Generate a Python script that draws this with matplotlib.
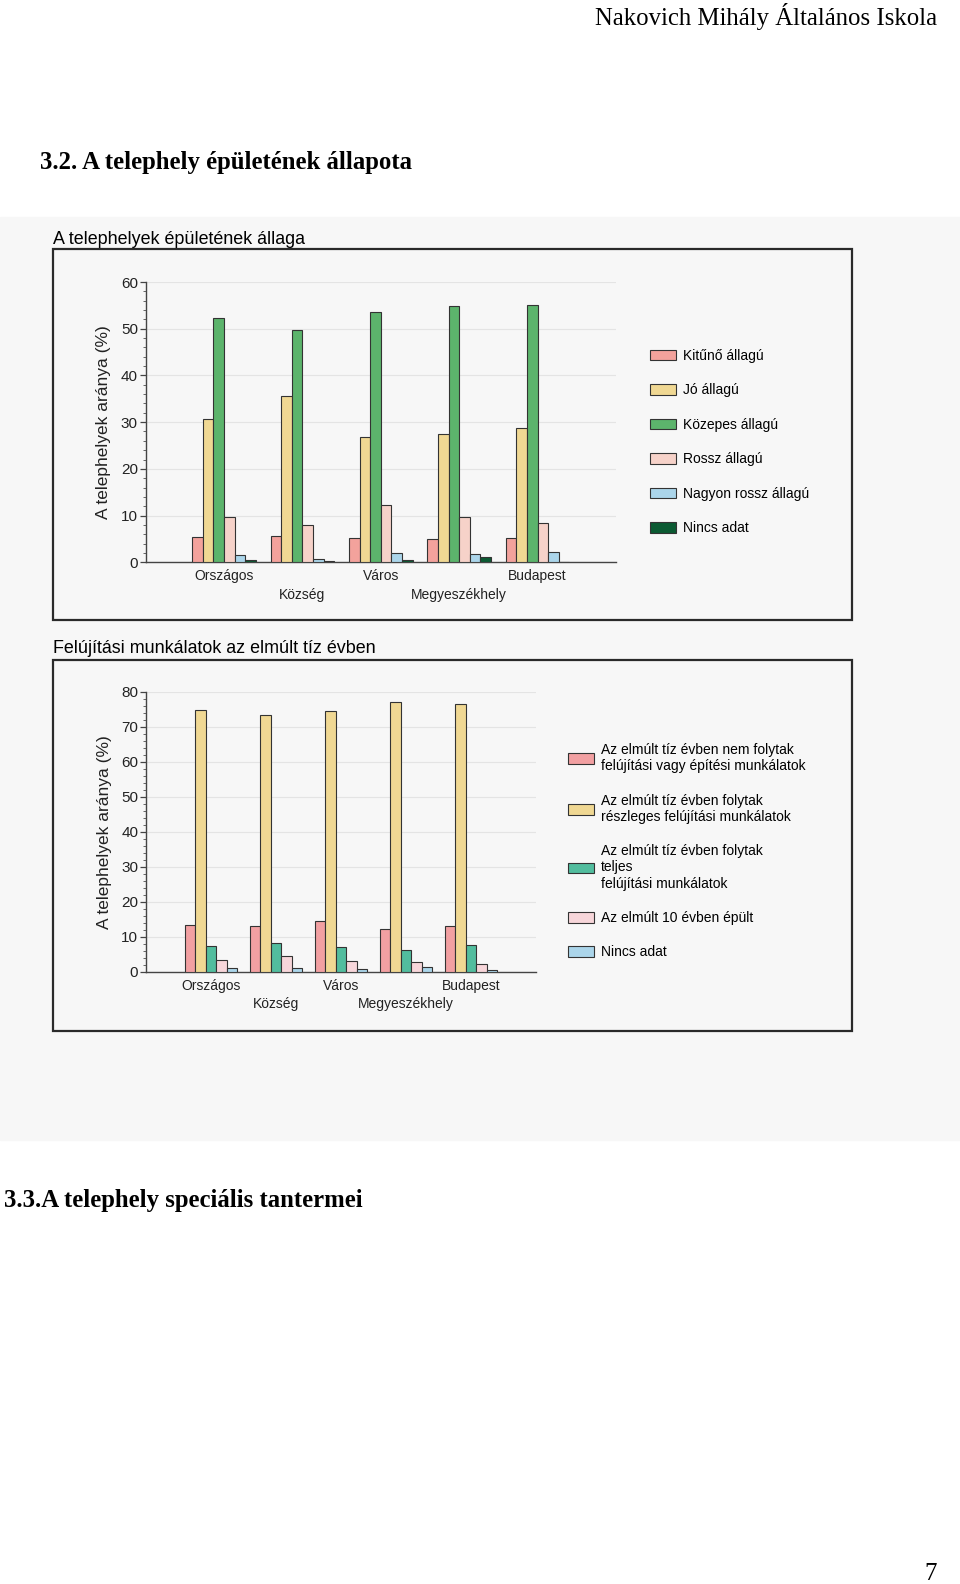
# A telephely épületének állapota - két csoportosított oszlopdiagram
import numpy as np
import matplotlib
matplotlib.use('Agg')
import matplotlib.pyplot as plt
from matplotlib.patches import Rectangle
from matplotlib.ticker import MultipleLocator

plt.rcParams['font.family'] = ['Liberation Sans', 'DejaVu Sans']

W, H = 960, 1584

# adatok
categories = ['Országos', 'Község', 'Város', 'Megyeszékhely', 'Budapest']

allag_labels = ['Kitűnő állagú', 'Jó állagú', 'Közepes állagú', 'Rossz állagú',
                'Nagyon rossz állagú', 'Nincs adat']
kituno = [5.35, 5.6, 5.1, 5.0, 5.3]
jo = [30.6, 35.6, 26.8, 27.4, 28.8]
kozepes = [52.4, 49.8, 53.6, 54.8, 55.0]
rossz = [9.7, 8.0, 12.3, 9.6, 8.4]
nagyon_rossz = [1.5, 0.7, 1.9, 1.7, 2.1]
nincs_adat1 = [0.4, 0.2, 0.4, 1.2, 0.15]

felujitas_labels = ['Az elmúlt tíz évben nem folytak\nfelújítási vagy építési munkálatok',
                    'Az elmúlt tíz évben folytak\nrészleges felújítási munkálatok',
                    'Az elmúlt tíz évben folytak\nteljes\nfelújítási munkálatok',
                    'Az elmúlt 10 évben épült',
                    'Nincs adat']
nem_folytak = [13.3, 13.2, 14.6, 12.1, 13.0]
reszleges = [74.8, 73.4, 74.4, 77.1, 76.5]
teljes = [7.4, 8.2, 7.1, 6.3, 7.7]
epult = [3.3, 4.4, 3.0, 2.8, 2.1]
nincs_adat2 = [0.95, 0.95, 0.9, 1.3, 0.4]

colors1 = ['#f3a29c', '#f0d893', '#5cb46c', '#f6d2c9', '#abd5ea', '#0b5a32']
colors2 = ['#f2a0a2', '#f0d893', '#52bd9e', '#f7d6da', '#abd5ea']


def fx(x):
    return x / W


def fy(y):
    return 1 - y / H


def frame(fig, x0, y0, x1, y1):
    fig.patches.append(Rectangle((fx(x0), fy(y1)), fx(x1 - x0), (y1 - y0) / H,
                                 transform=fig.transFigure, fill=False,
                                 edgecolor='#2a2a2a', linewidth=1.6))


def grouped(fig, rect, series, colors, labels, width, xmax, ymax, leg_xy):
    left, top, right, bottom = rect
    ax = fig.add_axes([fx(left), fy(bottom), fx(right - left), (bottom - top) / H])
    ax.set_facecolor('none')
    x = np.arange(len(categories))
    n = len(series)
    handles = []
    for i, (vals, c) in enumerate(zip(series, colors)):
        off = (i - (n - 1) / 2) * width
        b = ax.bar(x + off, vals, width, color=c, edgecolor='#333333',
                   linewidth=0.8, zorder=3)
        handles.append(b)
    ax.set_xlim(-1, xmax)
    ax.set_ylim(0, ymax)
    ax.yaxis.set_major_locator(MultipleLocator(10))
    ax.yaxis.set_minor_locator(MultipleLocator(2))
    ax.grid(axis='y', color='#e4e4e4', linewidth=0.8, zorder=0)
    ax.set_axisbelow(True)
    for s in ['top', 'right']:
        ax.spines[s].set_visible(False)
    for s in ['left', 'bottom']:
        ax.spines[s].set_color('#444444')
        ax.spines[s].set_linewidth(1.0)
    ax.tick_params(axis='y', which='major', length=4, width=0.9, color='#444444',
                   labelsize=11, pad=1.5, labelcolor='#222222')
    ax.tick_params(axis='y', which='minor', length=2.5, width=0.7, color='#666666')
    ax.set_xticks(x)
    ax.set_xticklabels(categories, fontsize=10, color='#222222')
    ax.tick_params(axis='x', length=0, pad=5)
    for i, t in enumerate(ax.xaxis.get_major_ticks()):
        if i % 2 == 1:
            t.set_pad(5 + 13.5)
    ax.set_ylabel('A telephelyek aránya (%)', fontsize=12.5, labelpad=7,
                  color='#222222')
    fig.legend(handles, labels, loc='upper left',
               bbox_to_anchor=(fx(leg_xy[0]), fy(leg_xy[1])),
               frameon=False, fontsize=10, borderpad=0, borderaxespad=0,
               handlelength=1.9, handleheight=0.8, handletextpad=0.5,
               labelspacing=1.47)
    return ax


fig = plt.figure(figsize=(W / 100, H / 100), dpi=100)

# szkennelt háttér
fig.patches.append(Rectangle((0, fy(1140)), 1, (1140 - 217) / H,
                             transform=fig.transFigure, color='#f7f7f7',
                             zorder=-10))

# oldal szövegei
fig.text(fx(937), fy(17), 'Nakovich Mihály Általános Iskola', ha='right',
         va='center', fontsize=17.8, family='Liberation Serif')
fig.text(fx(40), fy(163), '3.2. A telephely épületének állapota', ha='left',
         va='center', fontsize=17.8, fontweight='bold', family='Liberation Serif')
fig.text(fx(4), fy(1201), '3.3.A telephely speciális tantermei', ha='left',
         va='center', fontsize=17.8, fontweight='bold', family='Liberation Serif')
fig.text(fx(931), fy(1574), '7', ha='center', va='center', fontsize=18,
         family='Liberation Serif')

# felső diagram
fig.text(fx(53), fy(239), 'A telephelyek épületének állaga', ha='left',
         va='center', fontsize=12.9)
frame(fig, 53, 249, 852, 620)
grouped(fig, (145.5, 282, 616, 562.3),
        [kituno, jo, kozepes, rossz, nagyon_rossz, nincs_adat1], colors1,
        allag_labels, 0.135, 5.0, 60, (650, 349))

# alsó diagram
fig.text(fx(53), fy(648), 'Felújítási munkálatok az elmúlt tíz évben', ha='left',
         va='center', fontsize=12.9)
frame(fig, 53, 660, 852, 1031)
grouped(fig, (146, 691.7, 536, 971.7),
        [nem_folytak, reszleges, teljes, epult, nincs_adat2], colors2,
        felujitas_labels, 0.163, 5.0, 80, (568, 743))

plt.savefig('out.png', dpi=100)
